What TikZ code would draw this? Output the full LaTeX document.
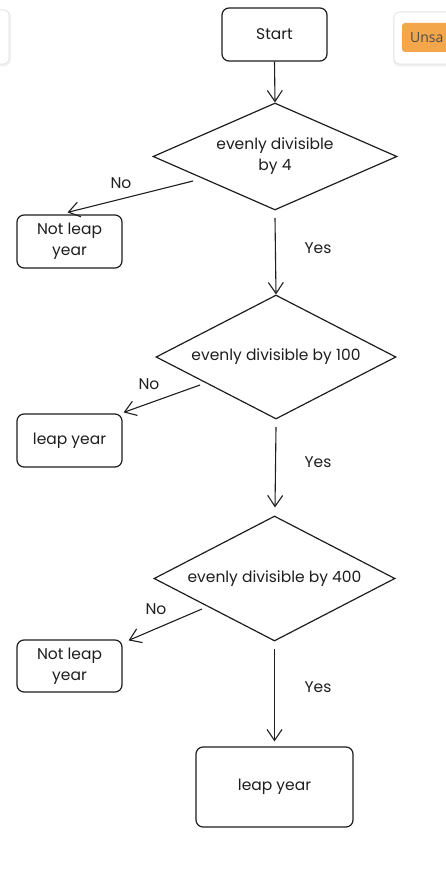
\documentclass[tikz,border=0pt]{standalone}
\usepackage{fontspec}
\setmainfont{Poppins}
\newfontfamily\uifont{Open Sans}
\usetikzlibrary{shapes.geometric,arrows.meta,calc}
\definecolor{ink}{HTML}{1E1E1E}
\definecolor{btn}{HTML}{F4A64A}
\begin{document}
\begin{tikzpicture}[x=1pt,y=-1pt,
  txt/.style={text=ink, font=\fontsize{15.5}{21}\selectfont},
  box/.style={txt, draw=ink, line width=1.2pt, rounded corners=7pt, fill=white, align=center, inner sep=0pt},
  dia/.style={txt, draw=ink, line width=1.2pt, diamond, shape aspect=2.3, inner sep=0pt, align=center},
  arr/.style={draw=ink, line width=1.1pt, -{Straight Barb[length=11pt,width=15pt,line width=1.1pt]}},
  lbl/.style={txt, inner sep=0pt},
  uibox/.style={fill=white, draw=black!12, line width=0.6pt, rounded corners=5pt},
  uishadow/.style={draw=black!6, line width=3pt, rounded corners=6pt}]
\useasboundingbox (0,0) rectangle (446,872);
\clip (0,0) rectangle (446,872);
\fill[white] (0,0) rectangle (446,872);

% UI fragments at the top
\draw[uishadow] (-20,11) rectangle (9.5,65);
\draw[uibox] (-20,10) rectangle (9,64);
\draw[uishadow] (394.5,13) rectangle (470,65);
\draw[uibox] (394,12) rectangle (470,64);
\fill[btn, rounded corners=3pt] (402,23) rectangle (470,52);
\node[anchor=west, inner sep=0pt, text=black!70, font=\uifont\fontsize{14}{16}\selectfont] (ui) at (410,38) {Unsa};

% nodes
\node[box, minimum width=105pt, minimum height=53pt] (start) at (274.5,34.5) {Start};
\node[dia, minimum width=244pt, minimum height=107pt] (d1) at (275,156.5) {evenly divisible\\by 4};
\node[box, minimum width=105pt, minimum height=53pt] (nl1) at (69.5,241.5) {Not leap\\year};
\node[dia, minimum width=240pt, minimum height=124pt] (d2) at (276,357) {evenly divisible by 100};
\node[box, minimum width=105pt, minimum height=53pt] (lp2) at (69.5,440.5) {leap year};
\node[dia, minimum width=241pt, minimum height=125pt] (d3) at (274.5,578.5) {evenly divisible by 400};
\node[box, minimum width=105pt, minimum height=52pt] (nl3) at (69.5,666) {Not leap\\year};
\node[box, minimum width=157pt, minimum height=80pt] (fin) at (274.5,787) {leap year};

% labels
\node[lbl] (no1) at (121,183) {No};
\node[lbl] (yes1) at (318,248) {Yes};
\node[lbl] (no2) at (149,384) {No};
\node[lbl] (yes2) at (318,462) {Yes};
\node[lbl] (no3) at (156,609) {No};
\node[lbl] (yes3) at (318,687) {Yes};

% connector start points
\coordinate (n1s) at (193,181);
\coordinate (n2s) at (200,385);
\coordinate (n3s) at (202,609);
\coordinate (y1s) at (275,218);
\coordinate (y2s) at (276,427);
\coordinate (y3s) at (274.5,649);

% connectors
\draw[arr] (start.south) -- (d1.north);
\draw[arr] (n1s) -- ($(nl1.north)+(-2,-2)$);
\draw[arr] (y1s) -- (d2.north);
\draw[arr] (n2s) -- ($(lp2.north east)+(1,-1)$);
\draw[arr] (y2s) -- ($(d3.north)+(0.5,-8)$);
\draw[arr] (n3s) -- ($(nl3.north east)+(6,1)$);
\draw[arr] (y3s) -- ($(fin.north)+(0,-5)$);
\end{tikzpicture}
\end{document}
